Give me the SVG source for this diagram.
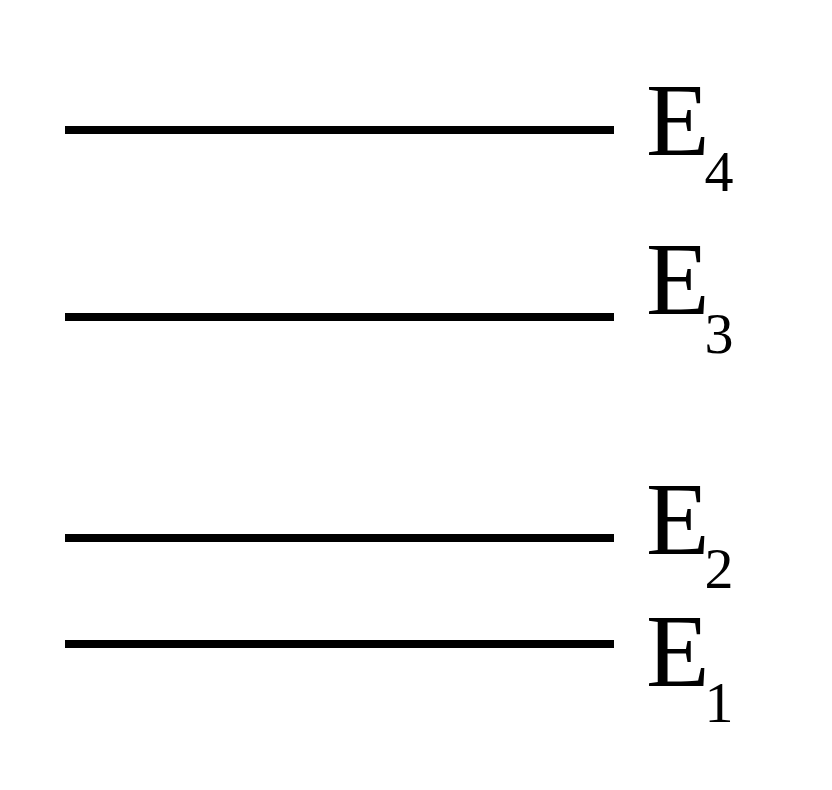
<svg xmlns="http://www.w3.org/2000/svg" width="832" height="790" viewBox="0 0 832 790">
<style>
.lvl{stroke:#000;stroke-width:8;fill:none}
.e{font-family:"Liberation Serif","Times New Roman",serif;font-size:104px;fill:#000}
.s{font-size:58px}
</style>
<rect width="832" height="790" fill="#fff"/>
<g id="level4"><line class="lvl" x1="65" y1="130" x2="614" y2="130"/><text class="e" x="646" y="155">E<tspan class="s" dx="-5" dy="36">4</tspan></text></g>
<g id="level3"><line class="lvl" x1="65" y1="317" x2="614" y2="317"/><text class="e" x="646" y="314">E<tspan class="s" dx="-5" dy="39">3</tspan></text></g>
<g id="level2"><line class="lvl" x1="65" y1="538" x2="614" y2="538"/><text class="e" x="646" y="554">E<tspan class="s" dx="-5" dy="34">2</tspan></text></g>
<g id="level1"><line class="lvl" x1="65" y1="644" x2="614" y2="644"/><text class="e" x="646" y="686">E<tspan class="s" dx="-5" dy="36">1</tspan></text></g>
<g id="connectors"></g>
</svg>
